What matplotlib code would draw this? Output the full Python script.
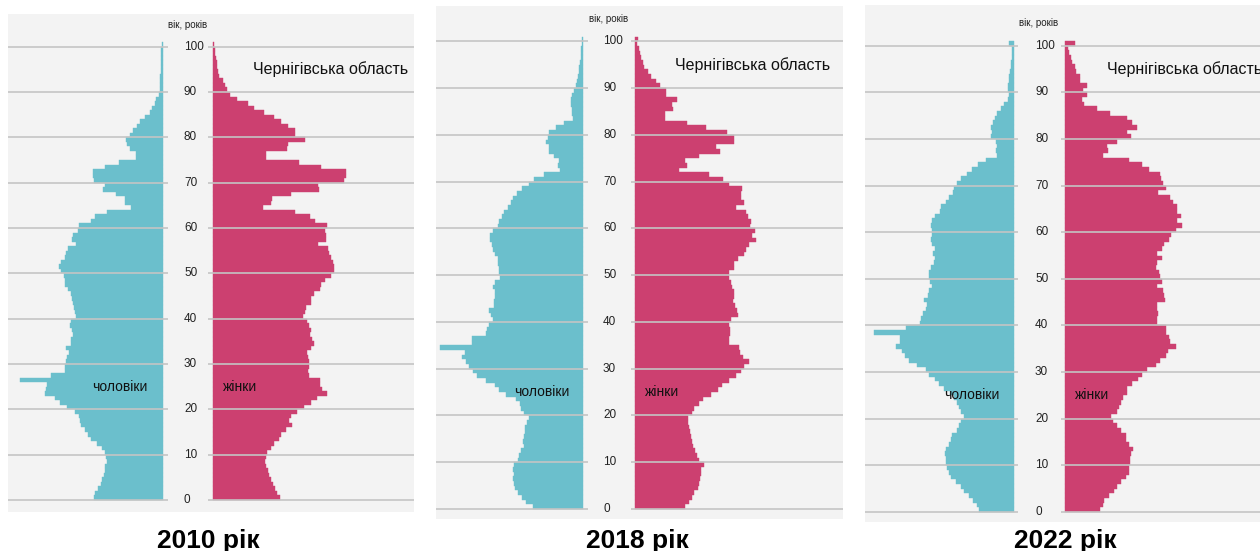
import numpy as np
import matplotlib.pyplot as plt

plt.rcParams['font.family'] = ['Liberation Sans', 'DejaVu Sans']

ages = np.arange(101)

# bar lengths, ages 0..100 (arbitrary units)
men_2010 = [207, 203, 195, 187, 183, 177, 175, 173, 169, 170,
            173, 182, 197, 217, 225, 233, 245, 250, 253, 265,
            287, 310, 325, 355, 350, 347, 430, 335, 295, 295,
            290, 287, 282, 290, 277, 275, 270, 273, 279, 277,
            260, 265, 267, 270, 273, 275, 285, 293, 293, 297,
            307, 312, 305, 295, 290, 285, 260, 273, 269, 255,
            252, 217, 203, 169, 97, 113, 115, 140, 181, 175,
            207, 210, 209, 173, 133, 80, 82, 100, 107, 112,
            99, 90, 77, 68, 53, 40, 33, 25, 20, 13,
            10, 10, 9, 8, 7, 7, 6, 6, 5, 5, 4]
women_2010 = [201, 194, 186, 181, 176, 169, 166, 161, 156, 161,
              164, 176, 184, 198, 206, 221, 238, 228, 234, 254,
              274, 296, 314, 343, 328, 321, 321, 288, 286, 288,
              288, 286, 284, 296, 304, 298, 291, 294, 288, 284,
              271, 276, 281, 296, 296, 304, 321, 326, 336, 356,
              364, 364, 361, 354, 349, 346, 316, 341, 341, 336,
              344, 306, 291, 248, 151, 176, 179, 236, 319, 316,
              394, 399, 401, 326, 259, 159, 159, 224, 226, 276,
              248, 248, 226, 206, 183, 154, 123, 106, 74, 51,
              43, 36, 31, 18, 16, 14, 13, 11, 8, 6, 3]

men_2018 = [152, 172, 184, 197, 204, 207, 210, 207, 210, 207,
            197, 192, 187, 177, 180, 177, 174, 174, 170, 164,
            177, 187, 190, 202, 232, 252, 264, 292, 320, 332,
            342, 352, 364, 354, 430, 334, 334, 292, 290, 284,
            272, 277, 284, 267, 267, 264, 264, 270, 264, 250,
            252, 252, 257, 257, 264, 272, 274, 279, 279, 272,
            256, 254, 244, 237, 227, 217, 210, 200, 184, 162,
            147, 117, 70, 77, 74, 87, 102, 104, 112, 107,
            102, 82, 57, 32, 34, 34, 37, 37, 34, 27,
            22, 19, 17, 14, 12, 10, 8, 7, 6, 5, 4]
women_2018 = [150, 162, 170, 177, 187, 192, 194, 197, 197, 205,
              192, 184, 180, 172, 170, 167, 164, 160, 157, 157,
              170, 177, 192, 202, 227, 247, 260, 282, 302, 317,
              327, 340, 324, 314, 312, 282, 282, 284, 284, 282,
              287, 307, 304, 300, 292, 297, 297, 290, 287, 280,
              282, 297, 297, 307, 327, 332, 340, 362, 350, 360,
              344, 347, 337, 332, 302, 327, 317, 317, 320, 280,
              264, 222, 132, 154, 150, 192, 255, 242, 295, 297,
              274, 212, 154, 90, 90, 114, 110, 124, 92, 92,
              74, 62, 47, 37, 27, 24, 17, 14, 10, 5, 8]

men_2022 = [104, 111, 121, 134, 149, 159, 174, 189, 194, 201,
            204, 204, 207, 204, 194, 189, 184, 169, 164, 159,
            149, 159, 164, 169, 179, 191, 209, 224, 237, 254,
            264, 289, 314, 327, 334, 354, 341, 341, 419, 324,
            281, 277, 271, 264, 259, 269, 257, 254, 244, 251,
            254, 254, 249, 239, 237, 241, 237, 244, 249, 244,
            244, 249, 244, 237, 221, 217, 204, 194, 181, 179,
            169, 157, 139, 124, 107, 84, 49, 54, 51, 54,
            69, 64, 67, 62, 56, 49, 39, 29, 17, 15,
            17, 17, 15, 13, 11, 9, 8, 6, 5, 4, 13]
women_2022 = [105, 115, 117, 132, 147, 157, 167, 182, 192, 192,
              195, 195, 197, 205, 192, 182, 182, 169, 157, 145,
              139, 157, 162, 167, 175, 185, 187, 202, 219, 232,
              247, 272, 285, 302, 309, 332, 315, 312, 302, 302,
              275, 277, 279, 277, 275, 299, 297, 295, 277, 292,
              285, 282, 272, 277, 292, 277, 292, 297, 312, 319,
              334, 352, 337, 347, 337, 335, 325, 315, 279, 302,
              295, 287, 285, 252, 232, 192, 115, 129, 125, 157,
              199, 185, 217, 202, 187, 135, 97, 57, 52, 65,
              55, 65, 45, 45, 32, 29, 22, 17, 12, 9, 29]

years = ['2010', '2018', '2022']
men = [men_2010, men_2018, men_2022]
women = [women_2010, women_2018, women_2022]

W, H = 1260, 551
fig = plt.figure(figsize=(W / 100, H / 100), dpi=100)

teal = '#6bbfcc'
pink = '#cc4070'
k = 3  # data units per pixel

# left, top, right, bottom, centre x, y of age 0, px per year, half gap, tick x, title x, region label x
boxes = [
    (8, 14, 414, 512, 187.8, 500.0, 4.533, 24.8, -3.8, 208, 65),
    (436, 6, 843, 519, 609.3, 509.0, 4.677, 26.0, -6.3, 637, 65.5),
    (865, 5, 1260, 522, 1039.35, 512.0, 4.663, 25.7, -4.35, 1065, 68),
]

for i, (l, t, r, b, cx, y0, ppy, hg, tx, ttx, rx) in enumerate(boxes):
    ax = fig.add_axes([l / W, 1 - b / H, (r - l) / W, (b - t) / H])
    ax.set_facecolor('#f3f3f3')
    x0, x1 = (l - cx) * k, (r - cx) * k
    ax.set_xlim(x0, x1)
    ax.set_ylim((y0 - b) / ppy, (y0 - t) / ppy)
    g = hg * k

    ax.barh(ages, -np.array(men[i]), left=-g, height=1, align='edge',
            color=teal, edgecolor=teal, linewidth=0.3, zorder=2)
    ax.barh(ages, women[i], left=g, height=1, align='edge',
            color=pink, edgecolor=pink, linewidth=0.3, zorder=2)

    for a in range(0, 101, 10):
        ax.plot([x0, -g + 3.5 * k], [a, a], color='#c4c4c4', lw=1.4, alpha=0.85, zorder=3)
        ax.plot([g - 3.5 * k, x1], [a, a], color='#c4c4c4', lw=1.4, alpha=0.85, zorder=3)
        ax.text(tx * k, a, str(a), ha='left', va='center', fontsize=8.5, color='#222222')

    ax.text(-0.7 * k, 104.8, 'вік, років', ha='center', va='center', fontsize=7, color='#222222')
    ax.text(rx * k, 95, 'Чернігівська область', ha='left', va='center', fontsize=11.5,
            color='#111111', clip_on=False)
    ax.text(-40 * k, 25, 'чоловіки', ha='right', va='center', fontsize=10, color='#111111', zorder=4)
    ax.text(35.5 * k, 25, 'жінки', ha='left', va='center', fontsize=10, color='#111111', zorder=4)

    ax.set_xticks([])
    ax.set_yticks([])
    for s in ax.spines.values():
        s.set_visible(False)

    fig.text(ttx / W, 1 - 548 / H, years[i] + ' рік', ha='center', va='baseline',
             fontsize=19, fontweight='bold', color='black')

fig.savefig('out.png', dpi=100, facecolor='white')
